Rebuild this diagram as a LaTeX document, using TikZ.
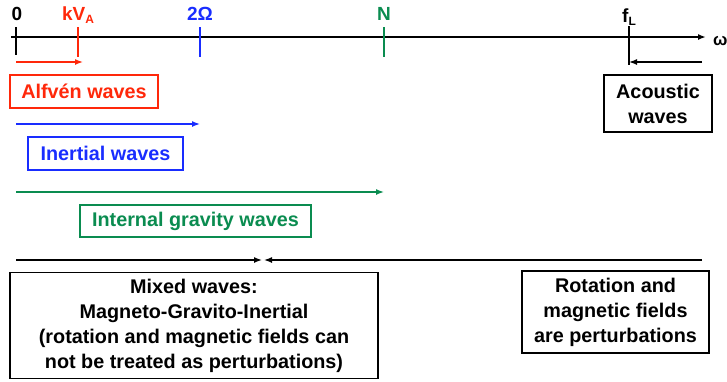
\documentclass[tikz,border=0pt]{standalone}
\usepackage{fontspec}
\setmainfont{Liberation Sans}
\usetikzlibrary{arrows.meta}
\definecolor{alfred}{RGB}{255,40,10}
\definecolor{inblue}{RGB}{25,45,255}
\definecolor{gwgreen}{RGB}{10,140,80}
\tikzset{
  wavebox/.style={draw,line width=1.5pt,inner sep=0pt,align=center,font=\fontsize{19.8}{25}\selectfont\bfseries},
  spanarrow/.style={line width=1.4pt,-{Latex[length=8pt,width=6pt]}},
  ticklbl/.style={anchor=base,inner sep=0pt,font=\fontsize{19}{19}\selectfont\bfseries},
  tickmark/.style={line width=1.6pt}
}
\newcommand{\lowsub}[1]{\raisebox{-0.35ex}{\fontsize{12}{12}\selectfont #1}}
\begin{document}
\begin{tikzpicture}[x=1pt,y=-1pt]
\useasboundingbox (0,0) rectangle (727,381);
\coordinate (axs) at (11,37);
\coordinate (axe) at (706,37);
\coordinate (t0) at (16,37);
\coordinate (tk) at (78,37);
\coordinate (to) at (200,37);
\coordinate (tn) at (384,37);
\coordinate (tf) at (629,37);
\draw[line width=1.8pt,-{Latex[length=8pt,width=6pt]}] (axs) -- (axe);
\node[anchor=west,inner sep=0pt,font=\fontsize{17}{17}\selectfont\bfseries] (om) at (713,41) {ω};
\draw[tickmark] (16,27) -- (16,55);
\draw[tickmark,alfred] (78,27) -- (78,57);
\draw[tickmark,inblue] (200,27) -- (200,57);
\draw[tickmark,gwgreen] (384,27) -- (384,57);
\draw[tickmark] (629,26) -- (629,65);
\node[ticklbl] (l0) at (17,20) {0};
\node[ticklbl,alfred] (lk) at (78,20) {kV\lowsub{A}};
\node[ticklbl,inblue] (lo) at (200,20) {2Ω};
\node[ticklbl,gwgreen] (ln) at (384,20) {N};
\node[ticklbl] (lf) at (629,22) {f\lowsub{L}};
\node[wavebox,alfred,minimum width=148pt,minimum height=33pt] (alf) at (84,91.5) {Alfvén waves};
\node[wavebox,inblue,minimum width=155pt,minimum height=33pt] (ine) at (105.5,153.5) {Inertial waves};
\node[wavebox,gwgreen,minimum width=231pt,minimum height=32pt] (igw) at (195.5,221) {Internal gravity waves};
\node[wavebox,minimum width=108pt,minimum height=57pt] (aco) at (658,103.5) {Acoustic\\waves};
\node[wavebox,minimum width=368pt,minimum height=106pt] (mix) at (194,325.5) {Mixed waves:\\Magneto-Gravito-Inertial\\(rotation and magnetic fields can\\not be treated as perturbations)};
\node[wavebox,minimum width=187pt,minimum height=82pt] (rot) at (615.5,312) {Rotation and\\magnetic fields\\are perturbations};
\coordinate (aend) at (83,62);
\coordinate (cend) at (702,62);
\coordinate (mid) at (263,260);
\coordinate (rend) at (702,260);
\draw[spanarrow,alfred] (t0 |- aend) -- (aend);
\draw[spanarrow,inblue] (16,124) -- (to |- 0,124);
\draw[spanarrow,gwgreen] (16,192) -- (tn |- 0,192);
\draw[spanarrow] (16,260) -- ([xshift=-1pt]mid);
\draw[spanarrow] (rend) -- ([xshift=1pt]mid);
\draw[spanarrow] (cend) -- (tf |- cend);
\end{tikzpicture}
\end{document}
